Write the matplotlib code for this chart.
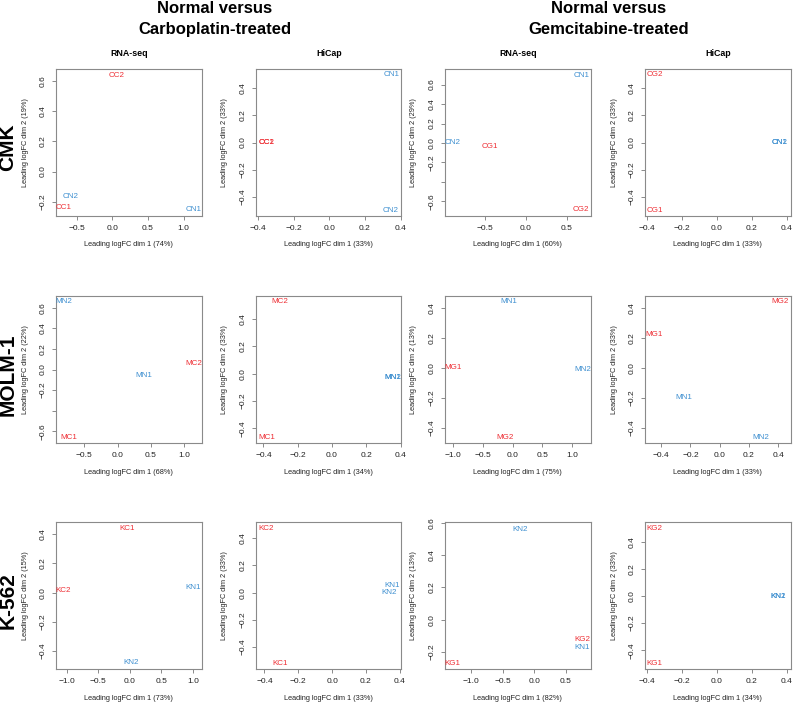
import matplotlib
matplotlib.use("Agg")
import matplotlib.pyplot as plt
from matplotlib.ticker import MultipleLocator, FuncFormatter

plt.rcParams["font.family"] = ["Liberation Sans", "DejaVu Sans"]

# sample labels (N = normal, C = carboplatin, G = gemcitabine)
cmk_carbo = ["CN1", "CN2", "CC1", "CC2"]
cmk_gem = ["CN1", "CN2", "CG1", "CG2"]
molm_carbo = ["MN1", "MN2", "MC1", "MC2"]
molm_gem = ["MN1", "MN2", "MG1", "MG2"]
k562_carbo = ["KN1", "KN2", "KC1", "KC2"]
k562_gem = ["KN1", "KN2", "KG1", "KG2"]

# MDS coordinates (dim 1, dim 2)
cmk_carbo_rna_x = [1.14, -0.58, -0.69, 0.06]
cmk_carbo_rna_y = [-0.255, -0.167, -0.24, 0.64]
cmk_carbo_hicap_x = [0.347, 0.344, -0.35, -0.35]
cmk_carbo_hicap_y = [0.498, -0.498, 0.0, 0.0]
cmk_gem_rna_x = [0.69, -0.895, -0.44, 0.68]
cmk_gem_rna_y = [0.697, 0.01, -0.035, -0.687]
cmk_gem_hicap_x = [0.358, 0.358, -0.353, -0.353]
cmk_gem_hicap_y = [0.0, 0.0, -0.498, 0.498]

molm_carbo_rna_x = [0.40, -0.816, -0.726, 1.14]
molm_carbo_rna_y = [-0.056, 0.659, -0.659, 0.055]
molm_carbo_hicap_x = [0.355, 0.355, -0.38, -0.302]
molm_carbo_hicap_y = [-0.025, -0.025, -0.466, 0.527]
molm_gem_rna_x = [-0.07, 1.175, -1.01, -0.123]
molm_gem_rna_y = [0.444, -0.011, 0.007, -0.463]
molm_gem_hicap_x = [-0.248, 0.284, -0.448, 0.416]
molm_gem_hicap_y = [-0.196, -0.463, 0.223, 0.444]

k562_carbo_rna_x = [1.01, 0.027, -0.04, -1.054]
k562_carbo_rna_y = [0.034, -0.482, 0.437, 0.011]
k562_carbo_hicap_x = [0.357, 0.337, -0.31, -0.392]
k562_carbo_hicap_y = [0.054, 0.0, -0.523, 0.469]
k562_gem_rna_x = [0.765, -0.226, -1.295, 0.758]
k562_gem_rna_y = [-0.174, 0.561, -0.273, -0.124]
k562_gem_hicap_x = [0.352, 0.352, -0.358, -0.358]
k562_gem_hicap_y = [0.0, 0.0, -0.498, 0.494]

# variance explained (%) for dim 1 / dim 2, row by row
dim1_pct = [[74, 33, 60, 33], [68, 34, 75, 33], [73, 33, 82, 34]]
dim2_pct = [[19, 33, 29, 33], [22, 33, 13, 33], [15, 33, 13, 33]]

cell_lines = ["CMK", "MOLM-1", "K-562"]
assays = ["RNA-seq", "HiCap", "RNA-seq", "HiCap"]
treatments = ["Normal versus\nCarboplatin-treated", "Normal versus\nGemcitabine-treated"]

# axis ranges of each panel
xlims = [[(-0.79, 1.25), (-0.411, 0.405), (-0.99, 0.794), (-0.41, 0.42)],
         [(-0.926, 1.26), (-0.443, 0.405), (-1.14, 1.31), (-0.51, 0.484)],
         [(-1.17, 1.137), (-0.45, 0.41), (-1.41, 0.89), (-0.41, 0.42)]]
ylims = [[(-0.295, 0.68), (-0.542, 0.542), (-0.75, 0.76), (-0.54, 0.54)],
         [(-0.714, 0.715), (-0.507, 0.569), (-0.50, 0.483), (-0.50, 0.483)],
         [(-0.526, 0.482), (-0.565, 0.518), (-0.307, 0.603), (-0.54, 0.543)]]
# y tick labels R dropped because they would overlap
hidden_y = {(0, 2): [-0.4], (1, 0): [-0.4]}

panels = [
    [(cmk_carbo, cmk_carbo_rna_x, cmk_carbo_rna_y),
     (cmk_carbo, cmk_carbo_hicap_x, cmk_carbo_hicap_y),
     (cmk_gem, cmk_gem_rna_x, cmk_gem_rna_y),
     (cmk_gem, cmk_gem_hicap_x, cmk_gem_hicap_y)],
    [(molm_carbo, molm_carbo_rna_x, molm_carbo_rna_y),
     (molm_carbo, molm_carbo_hicap_x, molm_carbo_hicap_y),
     (molm_gem, molm_gem_rna_x, molm_gem_rna_y),
     (molm_gem, molm_gem_hicap_x, molm_gem_hicap_y)],
    [(k562_carbo, k562_carbo_rna_x, k562_carbo_rna_y),
     (k562_carbo, k562_carbo_hicap_x, k562_carbo_hicap_y),
     (k562_gem, k562_gem_rna_x, k562_gem_rna_y),
     (k562_gem, k562_gem_hicap_x, k562_gem_hicap_y)],
]

RED = "#ee2d33"
BLUE = "#3d8fd0"
GREY = "#8a8a8a"
TXT = "#222222"
FS = 5.8      # point labels
FS_TICK = 6.0
FS_LAB = 5.3
PX = 0.72  # points per pixel at 100 dpi

W, H = 793, 705
fig = plt.figure(figsize=(W / 100, H / 100), dpi=100)

lefts = [56, 256, 445, 645]
tops = [69, 296, 522.3]
aw, ah = 145.5, 147


def fmt(hidden):
    def f(v, pos):
        if any(abs(v - h) < 1e-6 for h in hidden):
            return ""
        s = f"{v:.1f}"
        if s == "-0.0":
            s = "0.0"
        return s.replace("-", "\u2212")
    return FuncFormatter(f)


for r in range(3):
    for c in range(4):
        labels, xs, ys = panels[r][c]
        ax = fig.add_axes([lefts[c] / W, 1 - (tops[r] + ah) / H, aw / W, ah / H])
        ax.set_xlim(*xlims[r][c])
        ax.set_ylim(*ylims[r][c])
        for lab, x, y in zip(labels, xs, ys):
            col = BLUE if "N" in lab else RED
            ax.text(x, y, lab, color=col, fontsize=FS, ha="center", va="center")

        ax.xaxis.set_major_locator(MultipleLocator(0.5 if c % 2 == 0 else 0.2))
        ax.yaxis.set_major_locator(MultipleLocator(0.2))
        ax.xaxis.set_major_formatter(fmt([]))
        ax.yaxis.set_major_formatter(fmt(hidden_y.get((r, c), [])))
        ax.tick_params(length=4 * PX, width=0.7, color=GREY, labelsize=FS_TICK,
                       labelcolor=TXT, pad=5 * PX)
        for t in ax.get_yticklabels():
            t.set_rotation(90)
            t.set_va("center")
        for sp in ax.spines.values():
            sp.set_color(GREY)
            sp.set_linewidth(0.8)

        ax.annotate(f"Leading logFC dim 1 ({dim1_pct[r][c]}%)", xy=(0.5, 0),
                    xycoords="axes fraction", xytext=(0, -29 * PX),
                    textcoords="offset points", ha="center", va="center",
                    fontsize=FS_LAB, color=TXT)
        ax.annotate(f"Leading logFC dim 2 ({dim2_pct[r][c]}%)", xy=(0, 0.5),
                    xycoords="axes fraction", xytext=(-31 * PX, 0),
                    textcoords="offset points", ha="center", va="center",
                    rotation=90, fontsize=FS_LAB, color=TXT)

        if r == 0:
            fig.text((lefts[c] + aw / 2) / W, 1 - 53 / H, assays[c],
                     ha="center", va="center", fontsize=6.4, fontweight="bold")

    fig.text(8 / W, 1 - (tops[r] + ah / 2 + 5) / H, cell_lines[r], rotation=90,
             ha="center", va="center", fontsize=15, fontweight="bold")

for x, t in zip([214.5, 608.7], treatments):
    fig.text(x / W, 1 - 19 / H, t, ha="center", va="center", fontsize=12,
             fontweight="bold", linespacing=1.5)

fig.savefig("out.png", dpi=100)
